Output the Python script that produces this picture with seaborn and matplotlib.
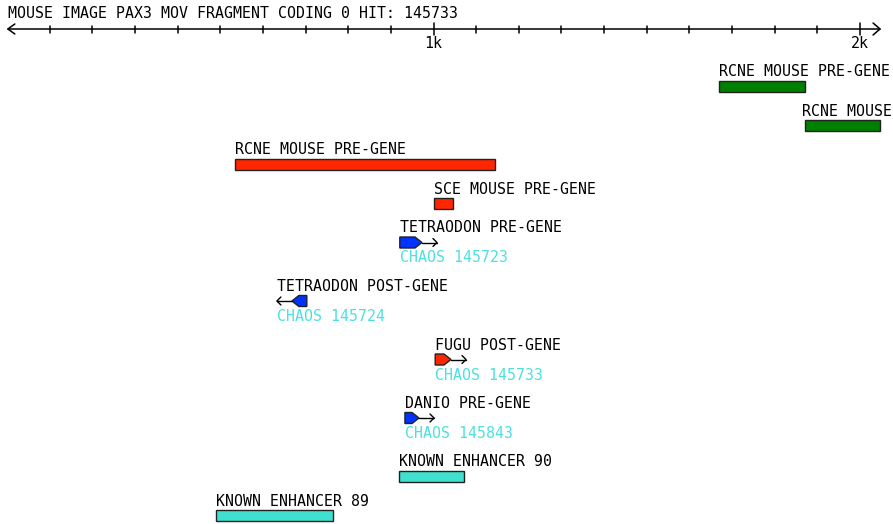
import matplotlib
matplotlib.use("Agg")
import matplotlib.pyplot as plt
from matplotlib.patches import Polygon
import seaborn as sns
import pandas as pd

# ---------------- data ----------------
title = "MOUSE IMAGE PAX3 MOV FRAGMENT CODING 0 HIT: 145733"
axis_start, axis_end = 2, 2047
minor_ticks = [100, 200, 300, 400, 500, 600, 700, 800, 900,
               1100, 1200, 1300, 1400, 1500, 1600, 1700, 1800, 1900]
major_ticks = [1000, 2000]
major_labels = ["1k", "2k"]

labels = ["RCNE MOUSE PRE-GENE", "RCNE MOUSE", "RCNE MOUSE PRE-GENE",
          "SCE MOUSE PRE-GENE", "TETRAODON PRE-GENE", "TETRAODON POST-GENE",
          "FUGU POST-GENE", "DANIO PRE-GENE", "KNOWN ENHANCER 90",
          "KNOWN ENHANCER 89"]
starts = [1669, 1871, 535, 1001, 921, 668, 1004, 933, 919, 490]
ends = [1871, 2047, 1144, 1046, 973, 703, 1041, 966, 1071, 764]
strands = [0, 0, 0, 0, 1, -1, 1, 1, 0, 0]
kinds = ["rcne", "rcne", "rcne_pre", "sce", "tetraodon", "tetraodon",
         "fugu", "danio", "enhancer", "enhancer"]
sublabels = ["", "", "", "", "CHAOS 145723", "CHAOS 145724",
             "CHAOS 145733", "CHAOS 145843", "", ""]

df = pd.DataFrame(dict(label=labels, start=starts, end=ends, strand=strands,
                       kind=kinds, sub=sublabels))

# ---------------- style ----------------
palette = {"rcne": "#008000", "rcne_pre": "#ff2600", "sce": "#ff2600",
           "tetraodon": "#0033ff", "fugu": "#ff2600", "danio": "#0033ff",
           "enhancer": "#40e0d0"}
sub_color = "#4ee0e0"

sns.set_theme(style="white")
plt.rcParams["font.family"] = ["DejaVu Sans Mono", "DejaVu Sans"]
FS = 10.7

W, H = 893, 524
fig = plt.figure(figsize=(W / 100, H / 100), dpi=100)
ax = fig.add_axes([0, 0, 1, 1])
scale = 0.4265          # px per bp
origin = 7.0            # px of bp 0
ax.set_xlim((0 - origin) / scale, (W - origin) / scale)
ax.set_ylim(H, 0)
ax.axis("off")
px = 1 / scale          # one pixel in data units
right_edge = (W - origin) / scale

# ---------------- ruler ----------------
ay = 29
ax.plot([axis_start, axis_end], [ay, ay], color="black", lw=1.1)
ax.plot([axis_start + 7 * px, axis_start, axis_start + 7 * px],
        [ay - 5, ay, ay + 5], color="black", lw=1.1)
ax.plot([axis_end - 7 * px, axis_end, axis_end - 7 * px],
        [ay - 6, ay, ay + 6], color="black", lw=1.1)
for t in minor_ticks:
    ax.plot([t, t], [ay - 3.5, ay + 3.5], color="black", lw=1.1)
for t, lab in zip(major_ticks, major_labels):
    ax.plot([t, t], [ay - 6, ay + 6], color="black", lw=1.1)
    ax.text(t, 43, lab, ha="center", va="center", fontsize=FS, color="black")
ax.text(8 * px - origin * px, 13, title, ha="left", va="center",
        fontsize=FS, color="black")

char_w = FS * 0.602 * 100 / 72 * px   # monospace character width in data units


def put_label(x, yy, text, color):
    if x + len(text) * char_w > right_edge - 1 * px:
        ax.text(right_edge - 1 * px, yy, text, ha="right", va="center",
                fontsize=FS, color=color)
    else:
        ax.text(x, yy, text, ha="left", va="center", fontsize=FS, color=color)


# ---------------- features ----------------
y = 72
bar_h = 11
for _, r in df.iterrows():
    col = palette[r["kind"]]
    top = y + 9
    mid = top + bar_h / 2
    if r["strand"] == 0:
        ax.barh(mid, r["end"] - r["start"], left=r["start"], height=bar_h,
                color=col, edgecolor="#222222", linewidth=1.0)
        lx = r["start"]
    else:
        tip = 7 * px
        arr = 15 * px
        s, e = r["start"], r["end"]
        if r["strand"] == 1:
            pts = [(s, top), (e - tip, top), (e, mid), (e - tip, top + bar_h),
                   (s, top + bar_h)]
            x0, x1 = e, e + arr
            ax.plot([x0, x1], [mid, mid], color="black", lw=1.0)
            ax.plot([x1 - 4 * px, x1, x1 - 4 * px], [mid - 4, mid, mid + 4],
                    color="black", lw=1.0)
            lx = s
        else:
            pts = [(e, top), (s + tip, top), (s, mid), (s + tip, top + bar_h),
                   (e, top + bar_h)]
            x0, x1 = s, s - arr
            ax.plot([x0, x1], [mid, mid], color="black", lw=1.0)
            ax.plot([x1 + 4 * px, x1, x1 + 4 * px], [mid - 4, mid, mid + 4],
                    color="black", lw=1.0)
            lx = x1
        ax.add_patch(Polygon(pts, closed=True, facecolor=col,
                             edgecolor="#222222", linewidth=1.0))
    put_label(lx, y, r["label"], "black")
    if r["sub"]:
        put_label(lx, y + 30, r["sub"], sub_color)
        y += 58.5
    else:
        y += 39

fig.savefig("out.png", dpi=100)
